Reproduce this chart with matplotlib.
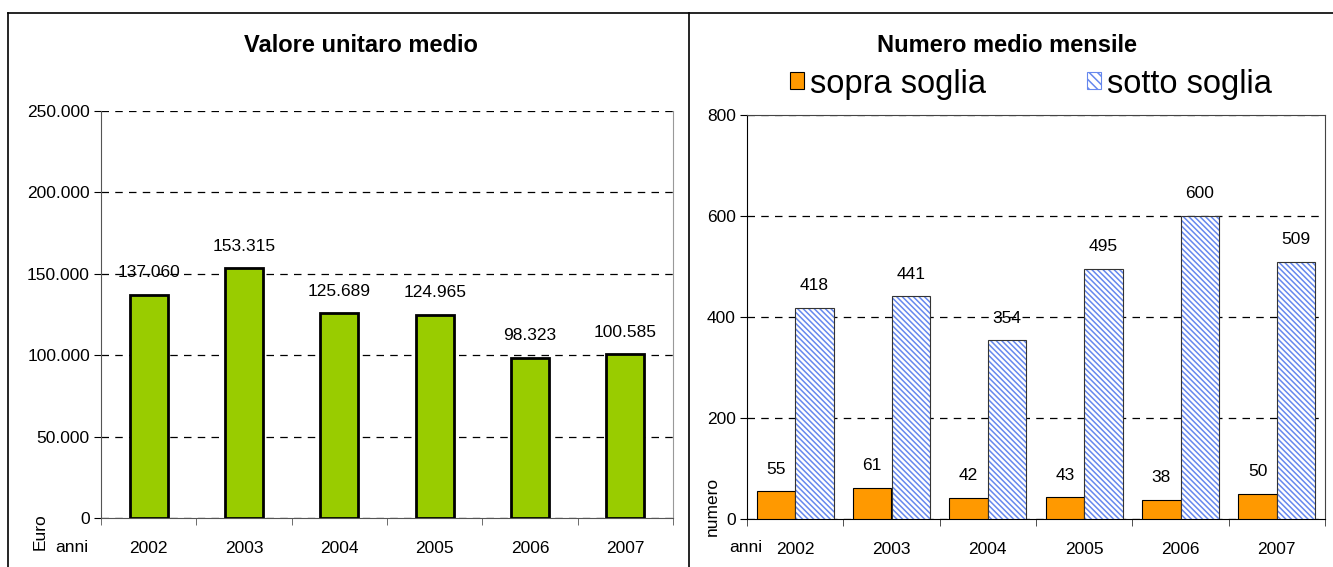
import matplotlib
matplotlib.use("Agg")
import matplotlib.pyplot as plt
import numpy as np
from matplotlib.lines import Line2D
from matplotlib.patches import Patch
from matplotlib.ticker import FixedLocator, FuncFormatter

plt.rcParams['font.family'] = ['Liberation Sans', 'DejaVu Sans']
plt.rcParams['hatch.linewidth'] = 1.1

years = ['2002', '2003', '2004', '2005', '2006', '2007']
valore = [137060, 153315, 125689, 124965, 98323, 100585]
sopra = [55, 61, 42, 43, 38, 50]
sotto = [418, 441, 354, 495, 600, 509]

W, H = 1333, 567
FS = 12.5
fig = plt.figure(figsize=(W / 100, H / 100), dpi=100)

def fx(px):
    return px / W

def fy(py):
    return 1 - py / H

# panel borders
for (x0, y0, x1, y1) in [(8, 13, 1333, 13), (8, 13, 8, 567), (689, 13, 689, 567)]:
    fig.add_artist(Line2D([fx(x0), fx(x1)], [fy(y0), fy(y1)], color='black', lw=1.2))

x = np.arange(len(years))
HATCH = '\\' * 6
BLUE = '#6688EE'

# ---------- Left chart ----------
ax1 = fig.add_axes([fx(101), fy(518), fx(673) - fx(101), fy(111) - fy(518)])
ax1.bar(x, valore, width=0.4, color='#99CC00', edgecolor='black', linewidth=2, zorder=3)
ax1.set_xlim(-0.5, len(years) - 0.5)
ax1.set_ylim(0, 250000)
ax1.set_yticks(np.arange(0, 250001, 50000))
ax1.yaxis.set_major_formatter(FuncFormatter(lambda v, p: f"{int(v):,}".replace(',', '.')))
ax1.grid(axis='y', linestyle=(0, (6, 5)), color='black', lw=0.9, zorder=0)
ax1.set_xticks(x)
ax1.set_xticklabels(years)
ax1.xaxis.set_minor_locator(FixedLocator(np.arange(-0.5, len(years), 1.0)))
ax1.tick_params(axis='x', which='major', length=0, pad=16.5, labelsize=FS)
ax1.tick_params(axis='x', which='minor', length=5, direction='out', color='#555555')
ax1.tick_params(axis='y', length=5, direction='out', labelsize=FS, pad=3)
ax1.spines['top'].set_visible(False)
ax1.spines['right'].set_color('#999999')
ax1.spines['left'].set_color('#555555')
ax1.spines['bottom'].set_color('#555555')
for xi, v in zip(x, valore):
    ax1.annotate(f"{v:,}".replace(',', '.'), (xi, v), xytext=(0, 16), textcoords='offset points',
                 ha='center', va='center', fontsize=FS, zorder=5)

fig.text(fx(361), fy(45), 'Valore unitaro medio', ha='center', va='center', fontsize=17, fontweight='bold')
fig.text(fx(40), fy(532), 'Euro', rotation=90, ha='center', va='center', fontsize=FS)
fig.text(fx(72), fy(547), 'anni', ha='center', va='center', fontsize=FS)

# ---------- Right chart ----------
ax2 = fig.add_axes([fx(747), fy(519), fx(1325) - fx(747), fy(115) - fy(519)])
ax2.bar(x - 0.2, sopra, width=0.4, color='#FF9900', edgecolor='black', linewidth=0.8, zorder=3)
ax2.bar(x + 0.2, sotto, width=0.4, color='white', edgecolor=BLUE, hatch=HATCH, linewidth=0, zorder=3)
ax2.bar(x + 0.2, sotto, width=0.4, fill=False, edgecolor='#333333', linewidth=0.8, zorder=4)
ax2.set_xlim(-0.5, len(years) - 0.5)
ax2.set_ylim(0, 800)
ax2.set_yticks(np.arange(0, 801, 200))
ax2.grid(axis='y', linestyle=(0, (6, 5)), color='black', lw=0.9, zorder=0)
ax2.set_xticks(x)
ax2.set_xticklabels(years)
ax2.xaxis.set_minor_locator(FixedLocator(np.arange(-0.5, len(years), 1.0)))
ax2.tick_params(axis='x', which='major', length=0, pad=16.5, labelsize=FS)
ax2.tick_params(axis='x', which='minor', length=5, direction='out', color='#333333')
ax2.tick_params(axis='y', length=5, direction='out', labelsize=FS, pad=3)
for s in ['top', 'right']:
    ax2.spines[s].set_color('#444444')
for xi, v in zip(x, sopra):
    ax2.annotate(str(v), (xi - 0.2, v), xytext=(0, 16), textcoords='offset points',
                 ha='center', va='center', fontsize=FS, zorder=5)
for xi, v in zip(x, sotto):
    ax2.annotate(str(v), (xi + 0.2, v), xytext=(0, 16), textcoords='offset points',
                 ha='center', va='center', fontsize=FS, zorder=5)

fig.text(fx(1007), fy(45), 'Numero medio mensile', ha='center', va='center', fontsize=17, fontweight='bold')
fig.text(fx(712), fy(506), 'numero', rotation=90, ha='center', va='center', fontsize=FS)
fig.text(fx(746), fy(547), 'anni', ha='center', va='center', fontsize=FS)

handles = [Patch(facecolor='#FF9900', edgecolor='black', linewidth=0.8),
           Patch(facecolor='white', edgecolor=BLUE, hatch='\\' * 4, linewidth=0.8)]
leg = fig.legend(handles, ['sopra soglia', 'sotto soglia'], loc='center', bbox_to_anchor=(fx(1031), fy(84)),
                 ncol=2, frameon=False, fontsize=23.5, handlelength=0.42, handleheight=0.42,
                 handletextpad=0.18, columnspacing=3.1, borderaxespad=0)

fig.savefig('out.png', dpi=100)
